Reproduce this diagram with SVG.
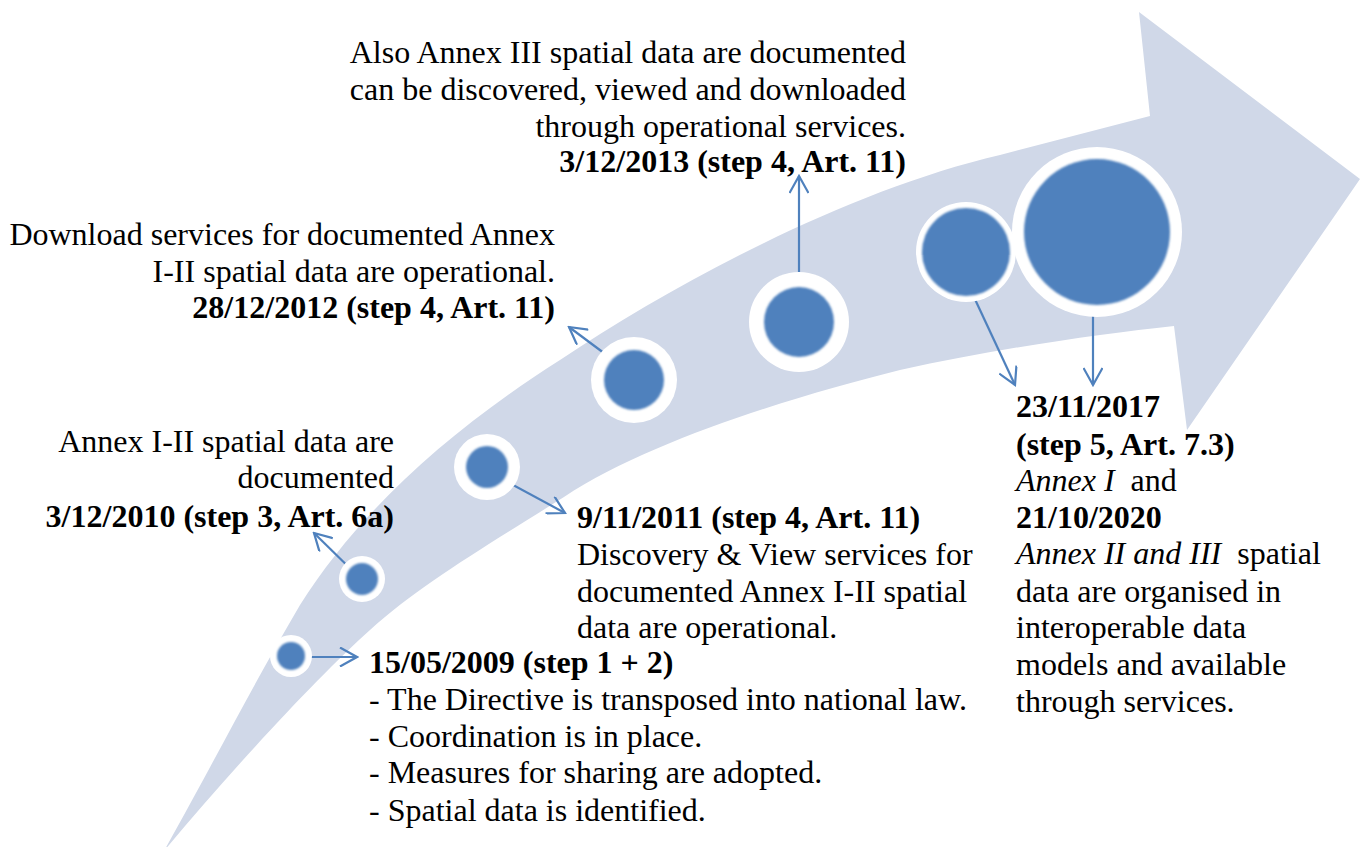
<svg xmlns="http://www.w3.org/2000/svg" width="1368" height="847" viewBox="0 0 1368 847" font-family="'Liberation Serif', Tinos, 'Times New Roman', 'DejaVu Serif', serif">
<defs>
<style>
text{font-family:'Liberation Serif',Tinos,'Times New Roman','DejaVu Serif',serif;font-size:32px;fill:#000}
.b{font-weight:bold}
.i{font-style:italic}
.r{text-anchor:end}
.ring{fill:#fff}
.dot{fill:#4F81BD;filter:url(#soft)}
.con{stroke:#4F81BD;stroke-width:2.2;fill:none;marker-end:url(#ah)}
</style>
<filter id="soft" x="-20%" y="-20%" width="140%" height="140%"><feGaussianBlur stdDeviation="1.2"/></filter>
<marker id="ah" viewBox="0 0 20 20" refX="18" refY="10" markerWidth="20" markerHeight="20" markerUnits="userSpaceOnUse" orient="auto">
<path d="M1,0.5 L18,10 L1,19.5" fill="none" stroke="#4F81BD" stroke-width="2.2"/>
</marker>
</defs>
<g id="band">
<path fill="#D0D8E8" d="M164,851 C215,760 250,690 300,605 C360,510 450,430 560,360 C680,280 850,190 1000,155 L1150,116 L1139,12 L1360,179 L1187,430 L1174,326 C1100,334 1000,348 900,370 C800,395 650,440 564,497 C480,550 420,585 370,630 C320,675 240,760 164,851 Z"/>
</g>
<g id="connectors">
<line class="con" x1="300" y1="657" x2="357" y2="657"/>
<line class="con" x1="365" y1="583" x2="314" y2="533"/>
<line class="con" x1="500" y1="478" x2="565" y2="513"/>
<line class="con" x1="624" y1="368" x2="569" y2="327"/>
<line class="con" x1="799" y1="292" x2="799" y2="176"/>
<line class="con" x1="973" y1="295" x2="1015" y2="385"/>
<line class="con" x1="1093" y1="306" x2="1093" y2="385"/>
</g>
<g id="node1"><circle class="ring" cx="291" cy="656" r="21"/><circle class="dot" cx="291" cy="656" r="14"/></g>
<g id="node2"><circle class="ring" cx="362" cy="579" r="23"/><circle class="dot" cx="362" cy="579" r="16"/></g>
<g id="node3"><circle class="ring" cx="487" cy="467" r="33"/><circle class="dot" cx="487" cy="467" r="21"/></g>
<g id="node4"><circle class="ring" cx="634" cy="380" r="43"/><circle class="dot" cx="634" cy="380" r="30"/></g>
<g id="node5"><circle class="ring" cx="799" cy="322" r="50"/><circle class="dot" cx="799" cy="322" r="35"/></g>
<g id="node6"><circle class="ring" cx="966" cy="252" r="50"/><circle class="dot" cx="966" cy="252" r="44"/></g>
<g id="node7"><circle class="ring" cx="1097" cy="232" r="85"/><circle class="dot" cx="1097" cy="232" r="73"/></g>
<g id="label-2013">
<text class="r" x="906" y="63">Also Annex III spatial data are documented</text>
<text class="r" x="906" y="100">can be discovered, viewed and downloaded</text>
<text class="r" x="906" y="137">through operational services.</text>
<text class="r b" x="906" y="172">3/12/2013 (step 4, Art. 11)</text>
</g>
<g id="label-2012">
<text class="r" x="555" y="245">Download services for documented Annex</text>
<text class="r" x="555" y="282">I-II spatial data are operational.</text>
<text class="r b" x="555" y="318">28/12/2012 (step 4, Art. 11)</text>
</g>
<g id="label-2010">
<text class="r" x="394" y="452">Annex I-II spatial data are</text>
<text class="r" x="394" y="488">documented</text>
<text class="r b" x="394" y="527">3/12/2010 (step 3, Art. 6a)</text>
</g>
<g id="label-2011">
<text class="b" x="577" y="528">9/11/2011 (step 4, Art. 11)</text>
<text x="577" y="565">Discovery &amp; View services for</text>
<text x="577" y="602">documented Annex I-II spatial</text>
<text x="577" y="638">data are operational.</text>
</g>
<g id="label-2009">
<text class="b" x="369" y="673">15/05/2009 (step 1 + 2)</text>
<text x="369" y="710">- The Directive is transposed into national law.</text>
<text x="369" y="747">- Coordination is in place.</text>
<text x="369" y="783">- Measures for sharing are adopted.</text>
<text x="369" y="821">- Spatial data is identified.</text>
</g>
<g id="label-2017">
<text class="b" x="1016" y="417">23/11/2017</text>
<text class="b" x="1016" y="455">(step 5, Art. 7.3)</text>
<text x="1016" y="491" xml:space="preserve"><tspan class="i">Annex I</tspan>  and</text>
<text class="b" x="1016" y="528">21/10/2020</text>
<text x="1016" y="564" xml:space="preserve"><tspan class="i">Annex II and III</tspan>  spatial</text>
<text x="1016" y="602">data are organised in</text>
<text x="1016" y="638">interoperable data</text>
<text x="1016" y="675">models and available</text>
<text x="1016" y="712">through services.</text>
</g>
</svg>
